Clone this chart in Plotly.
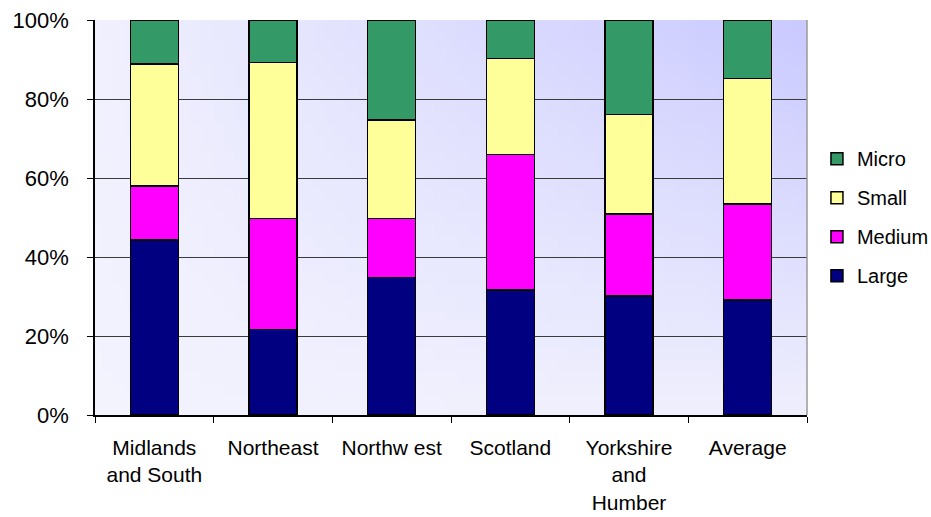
import base64
import struct
import zlib

import plotly.graph_objects as go

# Share of firms by size band, per region (percent of total)
regions = ["Midlands<br>and South", "Northeast", "Northw est", "Scotland",
           "Yorkshire<br>and<br>Humber", "Average"]
large = [44.3, 21.7, 34.8, 31.6, 30.1, 29.1]
medium = [13.7, 28.1, 15.0, 34.4, 20.8, 24.3]
small = [30.9, 39.5, 24.9, 24.3, 25.2, 31.8]
micro = [11.1, 10.7, 25.3, 9.7, 23.9, 14.8]

# stacking order bottom to top; legend lists them top to bottom
series = [
    ("Large", large, "#000080", 4),
    ("Medium", medium, "#FF00FF", 3),
    ("Small", small, "#FFFF99", 2),
    ("Micro", micro, "#339966", 1),
]


def gradient_png(w, h):
    """Small bilinear-gradient PNG used as the plot-area fill."""
    # corner colours: bottom-left, bottom-right, top-left, top-right
    bl = (243, 243, 254)
    br = (238, 238, 253)
    tl = (240, 240, 254)
    tr = (202, 202, 255)
    rows = []
    for j in range(h):
        v = 1 - j / (h - 1)  # 1 at top
        row = bytearray([0])
        for i in range(w):
            u = i / (w - 1)
            px = []
            for c in range(3):
                bottom = bl[c] * (1 - u) + br[c] * u
                top = tl[c] * (1 - u) + tr[c] * u
                px.append(int(round(bottom * (1 - v) + top * v)))
            row.extend(px)
        rows.append(bytes(row))
    raw = b"".join(rows)

    def chunk(tag, data):
        return (struct.pack(">I", len(data)) + tag + data
                + struct.pack(">I", zlib.crc32(tag + data) & 0xFFFFFFFF))

    png = b"\x89PNG\r\n\x1a\n"
    png += chunk(b"IHDR", struct.pack(">IIBBBBB", w, h, 8, 2, 0, 0, 0))
    png += chunk(b"IDAT", zlib.compress(raw, 9))
    png += chunk(b"IEND", b"")
    return "data:image/png;base64," + base64.b64encode(png).decode()


fig = go.Figure()
for name, vals, color, rank in series:
    fig.add_trace(go.Bar(
        name=name, x=regions, y=vals, legendgroup=name, legendrank=rank,
        marker=dict(color=color, line=dict(color="#000000", width=1.5)),
    ))

font = "Liberation Sans, Arial, sans-serif"

fig.update_layout(
    width=931, height=517,
    barmode="stack", bargap=0.596,
    margin=dict(l=95, r=124, t=20, b=102, autoexpand=False),
    paper_bgcolor="white", plot_bgcolor="rgba(0,0,0,0)",
    font=dict(family=font, size=20, color="#000000"),
    showlegend=True,
    legend=dict(traceorder="grouped", tracegroupgap=10,
                xref="container", yref="container",
                x=0.8775, y=0.58, yanchor="middle", xanchor="left",
                font=dict(size=20), itemwidth=30,
                bgcolor="rgba(0,0,0,0)"),
    images=[dict(source=gradient_png(64, 32), xref="paper", yref="paper",
                 x=0, y=1, sizex=1, sizey=1, sizing="stretch",
                 layer="below", xanchor="left", yanchor="top")],
    shapes=[dict(type="line", xref="paper", yref="paper", x0=1, x1=1,
                 y0=0, y1=1, line=dict(color="#9A9A9A", width=1.5))],
    xaxis=dict(showline=True, linecolor="#000000", linewidth=1.5,
               ticks="outside", tickson="boundaries", ticklen=6,
               tickcolor="#000000", showgrid=False, automargin=False,
               tickfont=dict(size=21), ticklabelstandoff=13),
    yaxis=dict(range=[0, 100], dtick=20, ticksuffix="%",
               showline=True, linecolor="#000000", linewidth=1.5,
               ticks="outside", ticklen=6, tickcolor="#000000",
               showgrid=True, gridcolor="#3A3A3A", gridwidth=1,
               zeroline=False, automargin=False, tickfont=dict(size=22),
               ticklabelstandoff=14),
)

fig.write_html("out.html")
